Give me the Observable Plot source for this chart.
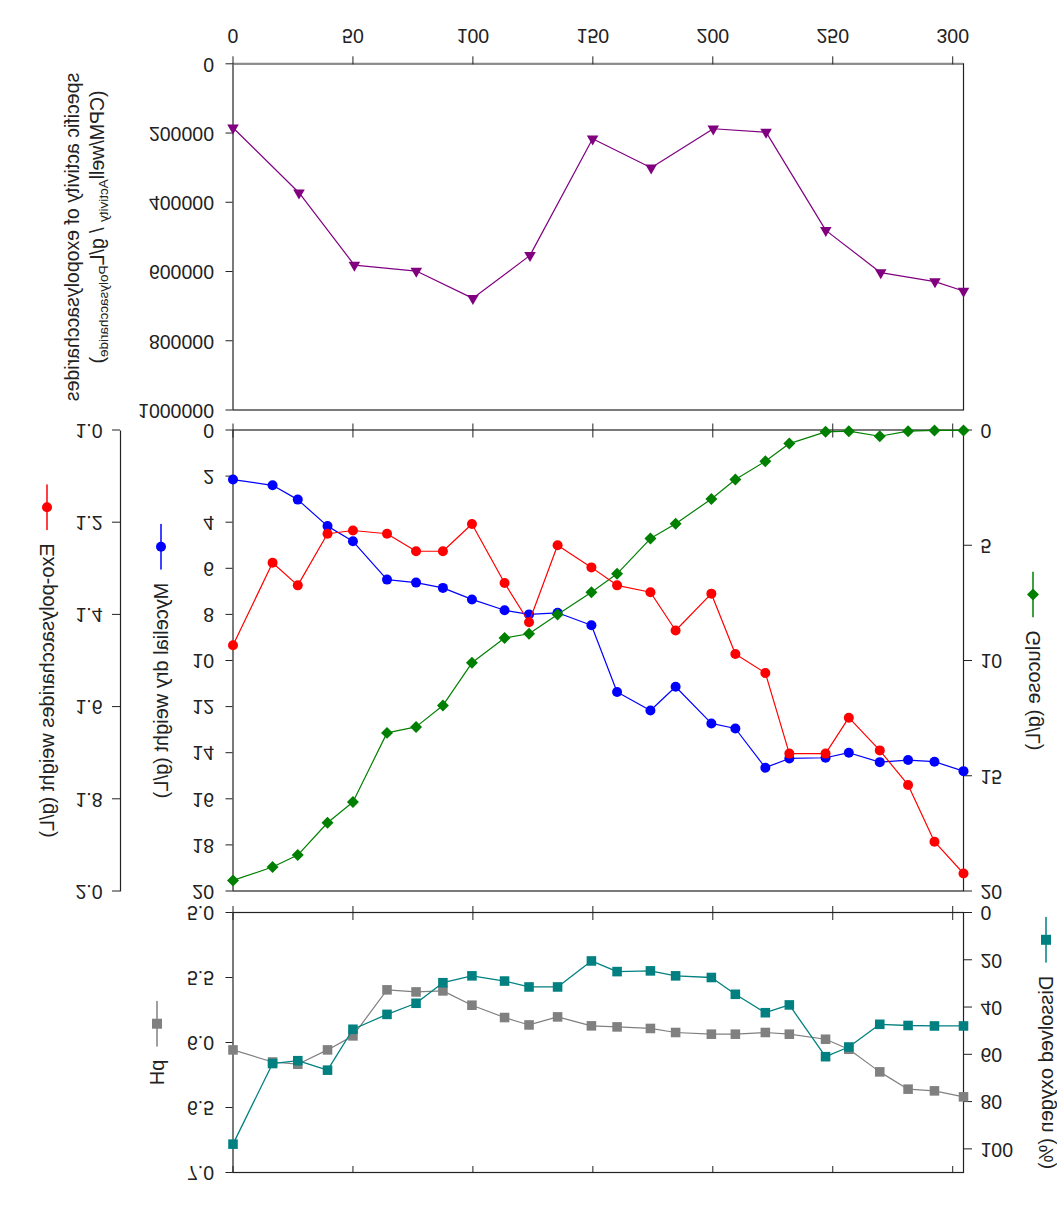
<!DOCTYPE html>
<html><head><meta charset="utf-8">
<script src="https://cdn.jsdelivr.net/npm/d3@7"></script>
<script src="https://cdn.jsdelivr.net/npm/@observablehq/plot@0.6"></script>
<style>
html,body{margin:0;padding:0;background:#fff;}
#wrap{position:relative;width:1063px;height:1220px;overflow:hidden;transform:scaleY(-1);transform-origin:50% 50%;font-family:"Liberation Sans",Arial,sans-serif;color:#222;}
.lab{position:absolute;white-space:nowrap;transform:translate(-50%,-50%) rotate(-90deg);font-size:20px;display:flex;align-items:center;line-height:1;}
.lab svg{display:block;margin-right:13px;}
.two{position:absolute;white-space:nowrap;transform:translate(-50%,-50%) rotate(-90deg);font-size:19.5px;text-align:center;line-height:25px;}
.two sub{font-size:13.5px;vertical-align:-4px;}
</style></head><body><div id="wrap"></div><script>
// ---- data ----
const times = [0,16.5,27,39.4,50,64.2,76.3,87.5,99.6,113.2,123.4,135.3,149.4,160.1,174,184.5,199.4,209.4,221.9,231.9,247,256.7,269.6,281.4,292.4,304.5];
const mycelial = [2.15,2.40,3.02,4.17,4.83,6.49,6.62,6.85,7.35,7.82,8.0,7.93,8.47,11.37,12.17,11.14,12.73,12.95,14.65,14.25,14.22,14.0,14.41,14.32,14.39,14.8];
const exoPolysaccharides = [1.467,1.288,1.337,1.225,1.218,1.225,1.263,1.263,1.204,1.332,1.417,1.25,1.298,1.337,1.352,1.435,1.355,1.486,1.527,1.702,1.702,1.624,1.695,1.770,1.893,1.962];
const glucose = [19.54,18.96,18.44,17.04,16.14,13.14,12.88,11.95,10.10,9.02,8.84,8.0,7.04,6.24,4.71,4.07,2.99,2.15,1.36,0.59,0.08,0.05,0.27,0.05,0.02,0.02];
const pH = [6.057,6.15,6.167,6.057,5.949,5.595,5.611,5.603,5.713,5.808,5.865,5.803,5.872,5.88,5.892,5.923,5.936,5.936,5.923,5.936,5.975,6.052,6.226,6.359,6.372,6.418];
const dissolvedO2 = [98,63.9,62.7,66.7,49.4,43.1,38.4,29.7,26.8,29.0,31.5,31.5,20.5,25.0,24.7,26.8,27.5,34.6,42.4,39.1,61.0,56.9,47.3,47.8,48.0,48.0];
const activityTimes = [0,27.5,50.6,76.4,100,123.8,149.9,174.3,200.2,222.2,247.1,270,292.6,304.5];
const activity = [184800,372400,581400,598700,677500,553400,216500,300200,187600,197500,481200,603300,629300,656400];

const xTicks = [0,50,100,150,200,250,300];
const myceliumTicks = [0,2,4,6,8,10,12,14,16,18,20];
const epsTicks = [1.0,1.2,1.4,1.6,1.8,2.0];
const glucoseTicks = [0,5,10,15,20];
const pHTicks = [5.0,5.5,6.0,6.5,7.0];
const doTicks = [0,20,40,60,80,100];
const activityTicks = [0,200000,400000,600000,800000,1000000];

// ---- styling ----
const C = {myc:"#0000ff", eps:"#ff0000", glu:"#008000", ph:"#808080", dox:"#008080", act:"#800080"};
const axisColor = "#222";
const W = 1063, ML = 232.5, MR = 100;
const xDomain = [0, 304.5];
const fontStyle = "font-family:'Liberation Sans',Arial,sans-serif;font-size:19.5px;overflow:visible;";

// secondary-axis mappings onto the primary scale
const epsToY = v => (v - 1) * 20;
const yToEps = d => 1 + d / 20;
const doToPH = v => 5 + v / 55;
const pHToDo = d => (d - 5) * 55;

const growth = times.map((t, i) => ({t, mycelial: mycelial[i], eps: exoPolysaccharides[i], glucose: glucose[i], pH: pH[i], dox: dissolvedO2[i]}));
const act = activityTimes.map((t, i) => ({t, v: activity[i]}));

const wrap = document.getElementById("wrap");
function place(svg, top) { svg.setAttribute("style", fontStyle + `position:absolute;left:0;top:${top}px;`); wrap.appendChild(svg); }

// Panel A: pH / dissolved oxygen (frame y 47..307)
const pA = Plot.plot({
  width: W, height: 318, marginTop: 47, marginBottom: 11, marginLeft: ML, marginRight: MR,
  x: {domain: xDomain, axis: null}, y: {domain: [5, 7], axis: null},
  marks: [
    Plot.frame({stroke: axisColor, strokeWidth: 1.2}),
    Plot.ruleX(xTicks, {y1: () => 5, y2: () => 5, insetTop: -7, insetBottom: -7, stroke: axisColor}),
    Plot.ruleX(xTicks, {y1: () => 7, y2: () => 7, insetTop: 0, insetBottom: -7, stroke: axisColor}),
    Plot.axisY({anchor: "left", ticks: pHTicks, tickFormat: d3.format(".1f"), tickSize: 7, tickPadding: 12, label: null}),
    Plot.axisY({anchor: "right", ticks: doTicks.map(doToPH), tickFormat: d => String(Math.round(pHToDo(d))), tickSize: 8, tickPadding: 9, label: null}),
    Plot.line(growth, {x: "t", y: "pH", stroke: C.ph, strokeWidth: 1.2}),
    Plot.dot(growth, {x: "t", y: "pH", symbol: "square", r: 5.4, fill: C.ph}),
    Plot.line(growth, {x: "t", y: d => doToPH(d.dox), stroke: C.dox, strokeWidth: 1.3}),
    Plot.dot(growth, {x: "t", y: d => doToPH(d.dox), symbol: "square", r: 5.4, fill: C.dox})
  ]
});
place(pA, 0);

// Panel B: mycelium / glucose / EPS (frame y 328.5..789.5)
const pB = Plot.plot({
  width: W, height: 482, marginTop: 10.5, marginBottom: 10.5, marginLeft: ML, marginRight: MR,
  x: {domain: xDomain, axis: null}, y: {domain: [0, 20], axis: null},
  marks: [
    Plot.frame({stroke: axisColor, strokeWidth: 1.2}),
    Plot.ruleX(xTicks, {y1: () => 0, y2: () => 0, insetTop: -7, insetBottom: -7, stroke: axisColor}),
    Plot.axisY({anchor: "left", ticks: myceliumTicks, tickFormat: d => String(d), tickSize: 7, tickPadding: 12, label: null}),
    Plot.ruleX([0], {dx: -112.5, stroke: axisColor, strokeWidth: 1.2}),
    Plot.axisY({anchor: "left", ticks: epsTicks.map(epsToY), tickFormat: d => yToEps(d).toFixed(1), tickSize: 8, tickPadding: 10, dx: -112.5, label: null}),
    Plot.axisY({anchor: "right", ticks: glucoseTicks, tickFormat: d => String(d), tickSize: 8, tickPadding: 9, label: null}),
    Plot.line(growth, {x: "t", y: "mycelial", stroke: C.myc, strokeWidth: 1.2}),
    Plot.dot(growth, {x: "t", y: "mycelial", r: 5, fill: C.myc}),
    Plot.line(growth, {x: "t", y: "glucose", stroke: C.glu, strokeWidth: 1.2}),
    Plot.dot(growth, {x: "t", y: "glucose", symbol: "diamond2", r: 5.4, fill: C.glu}),
    Plot.line(growth, {x: "t", y: d => epsToY(d.eps), stroke: C.eps, strokeWidth: 1.2}),
    Plot.dot(growth, {x: "t", y: d => epsToY(d.eps), r: 5, fill: C.eps})
  ]
});
place(pB, 318);

// Panel C: specific activity (frame y 809.5..1155.7)
const pC = Plot.plot({
  width: W, height: 420, marginTop: 9.5, marginBottom: 64.3, marginLeft: ML, marginRight: MR,
  x: {domain: xDomain, axis: null}, y: {domain: [0, 1000000], axis: null},
  marks: [
    Plot.frame({stroke: axisColor, strokeWidth: 1.2}),
    Plot.ruleY([0], {stroke: "#8a8a8a", strokeWidth: 2}),
    Plot.axisX({anchor: "bottom", ticks: xTicks, tickFormat: d => String(d), tickSize: 8, tickPadding: 13, label: null}),
    Plot.axisY({anchor: "left", ticks: activityTicks, tickFormat: d => String(d), tickSize: 7, tickPadding: 12, label: null}),
    Plot.line(act, {x: "t", y: "v", stroke: C.act, strokeWidth: 1.2}),
    Plot.dot(act, {x: "t", y: "v", symbol: "triangle", r: 4.3, fill: C.act})
  ]
});
place(pC, 800);

// ---- axis titles with legend glyphs ----
function glyph(color, shape) {
  let m;
  if (shape === "circle") m = `<circle cx="23" cy="7" r="5" fill="${color}"/>`;
  else if (shape === "square") m = `<rect x="18" y="2" width="10" height="10" fill="${color}"/>`;
  else m = `<path d="M23 1L29 7L23 13L17 7Z" fill="${color}"/>`;
  return `<svg width="46" height="14" viewBox="0 0 46 14"><line x1="0" y1="7" x2="46" y2="7" stroke="${color}" stroke-width="1.5"/>${m}</svg>`;
}
function label(text, cx, cy, color, shape) {
  const d = document.createElement("div");
  d.className = "lab";
  d.style.left = cx + "px"; d.style.top = cy + "px";
  d.innerHTML = glyph(color, shape) + `<span>${text}</span>`;
  wrap.appendChild(d);
}
label("Exo-polysaccharides weight (g/L)", 47, 558.5, C.eps, "circle");
label("Mycelial dry weight (g/L)", 161, 558.5, C.myc, "circle");
label("Glucose (g/L)", 1033, 559, C.glu, "diamond");
label("pH", 157, 176.5, C.ph, "square");
label("Dissolved oxygen (%)", 1046, 176.5, C.dox, "square");

const t2 = document.createElement("div");
t2.className = "two";
t2.style.left = "87.5px"; t2.style.top = "982.6px";
t2.innerHTML = `<div>specific activity of exopolysaccharides</div><div style="position:relative;left:-10px">(CPM/well<sub>Activity</sub> / g/L<sub>Polysaccharide</sub>)</div>`;
wrap.appendChild(t2);
</script></body></html>
